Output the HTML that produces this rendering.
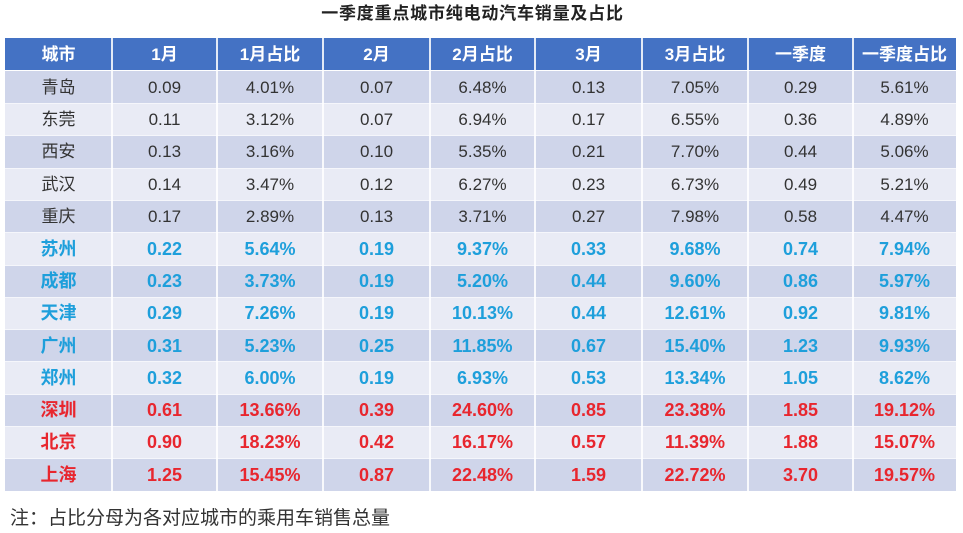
<!DOCTYPE html>
<html>
<head>
<meta charset="utf-8">
<style>
  html,body{margin:0;padding:0;background:#fff;}
  body{width:963px;height:533px;position:relative;overflow:hidden;
       font-family:"Liberation Sans","Noto Sans CJK SC",sans-serif;}
  .title{position:absolute;left:0;width:945px;top:3px;text-align:center;line-height:22px;
         font-size:17px;font-weight:bold;color:#222;letter-spacing:0.8px;}
  .row{position:absolute;left:5px;width:951px;}
  .c{position:absolute;top:0;height:100%;display:flex;align-items:center;justify-content:center;
     line-height:1;font-size:17px;color:#333;white-space:nowrap;}
  .hd{background:#4472C4;top:38px;height:32px;}
  .hd .c{color:#fff;font-weight:bold;font-size:17px;}
  .o{background:#CFD5EA;}
  .e{background:#E9EBF5;}
  .cy .c{color:#1E9FDB;font-weight:bold;font-size:18px;}
  .rd .c{color:#E8262E;font-weight:bold;font-size:18px;}
  .vl{position:absolute;top:38px;height:453px;width:2px;background:#fff;opacity:0.85;}
  .hl{position:absolute;left:5px;width:951px;height:1px;background:#f5f6fb;}
  .note{position:absolute;left:10px;top:508px;font-size:19px;line-height:22px;color:#333;}
</style>
</head>
<body>
<div class="title">一季度重点城市纯电动汽车销量及占比</div>

<div id="t"></div>

<div class="row hd">
  <div class="c" style="left:0;width:107px">城市</div>
  <div class="c" style="left:107px;width:105px">1月</div>
  <div class="c" style="left:212px;width:106px">1月占比</div>
  <div class="c" style="left:318px;width:107px">2月</div>
  <div class="c" style="left:425px;width:105px">2月占比</div>
  <div class="c" style="left:530px;width:107px">3月</div>
  <div class="c" style="left:637px;width:106px">3月占比</div>
  <div class="c" style="left:743px;width:105px">一季度</div>
  <div class="c" style="left:848px;width:103px">一季度占比</div>
</div>

<div class="row o" style="top:71px;height:32.3px">
  <div class="c" style="left:0;width:107px">青岛</div><div class="c" style="left:107px;width:105px">0.09</div><div class="c" style="left:212px;width:106px">4.01%</div><div class="c" style="left:318px;width:107px">0.07</div><div class="c" style="left:425px;width:105px">6.48%</div><div class="c" style="left:530px;width:107px">0.13</div><div class="c" style="left:637px;width:106px">7.05%</div><div class="c" style="left:743px;width:105px">0.29</div><div class="c" style="left:848px;width:103px">5.61%</div>
</div>
<div class="row e" style="top:103.3px;height:32.3px">
  <div class="c" style="left:0;width:107px">东莞</div><div class="c" style="left:107px;width:105px">0.11</div><div class="c" style="left:212px;width:106px">3.12%</div><div class="c" style="left:318px;width:107px">0.07</div><div class="c" style="left:425px;width:105px">6.94%</div><div class="c" style="left:530px;width:107px">0.17</div><div class="c" style="left:637px;width:106px">6.55%</div><div class="c" style="left:743px;width:105px">0.36</div><div class="c" style="left:848px;width:103px">4.89%</div>
</div>
<div class="row o" style="top:135.6px;height:32.3px">
  <div class="c" style="left:0;width:107px">西安</div><div class="c" style="left:107px;width:105px">0.13</div><div class="c" style="left:212px;width:106px">3.16%</div><div class="c" style="left:318px;width:107px">0.10</div><div class="c" style="left:425px;width:105px">5.35%</div><div class="c" style="left:530px;width:107px">0.21</div><div class="c" style="left:637px;width:106px">7.70%</div><div class="c" style="left:743px;width:105px">0.44</div><div class="c" style="left:848px;width:103px">5.06%</div>
</div>
<div class="row e" style="top:167.9px;height:32.3px">
  <div class="c" style="left:0;width:107px">武汉</div><div class="c" style="left:107px;width:105px">0.14</div><div class="c" style="left:212px;width:106px">3.47%</div><div class="c" style="left:318px;width:107px">0.12</div><div class="c" style="left:425px;width:105px">6.27%</div><div class="c" style="left:530px;width:107px">0.23</div><div class="c" style="left:637px;width:106px">6.73%</div><div class="c" style="left:743px;width:105px">0.49</div><div class="c" style="left:848px;width:103px">5.21%</div>
</div>
<div class="row o" style="top:200.2px;height:32.3px">
  <div class="c" style="left:0;width:107px">重庆</div><div class="c" style="left:107px;width:105px">0.17</div><div class="c" style="left:212px;width:106px">2.89%</div><div class="c" style="left:318px;width:107px">0.13</div><div class="c" style="left:425px;width:105px">3.71%</div><div class="c" style="left:530px;width:107px">0.27</div><div class="c" style="left:637px;width:106px">7.98%</div><div class="c" style="left:743px;width:105px">0.58</div><div class="c" style="left:848px;width:103px">4.47%</div>
</div>
<div class="row e cy" style="top:232.5px;height:32.3px">
  <div class="c" style="left:0;width:107px">苏州</div><div class="c" style="left:107px;width:105px">0.22</div><div class="c" style="left:212px;width:106px">5.64%</div><div class="c" style="left:318px;width:107px">0.19</div><div class="c" style="left:425px;width:105px">9.37%</div><div class="c" style="left:530px;width:107px">0.33</div><div class="c" style="left:637px;width:106px">9.68%</div><div class="c" style="left:743px;width:105px">0.74</div><div class="c" style="left:848px;width:103px">7.94%</div>
</div>
<div class="row o cy" style="top:264.8px;height:32.3px">
  <div class="c" style="left:0;width:107px">成都</div><div class="c" style="left:107px;width:105px">0.23</div><div class="c" style="left:212px;width:106px">3.73%</div><div class="c" style="left:318px;width:107px">0.19</div><div class="c" style="left:425px;width:105px">5.20%</div><div class="c" style="left:530px;width:107px">0.44</div><div class="c" style="left:637px;width:106px">9.60%</div><div class="c" style="left:743px;width:105px">0.86</div><div class="c" style="left:848px;width:103px">5.97%</div>
</div>
<div class="row e cy" style="top:297.1px;height:32.3px">
  <div class="c" style="left:0;width:107px">天津</div><div class="c" style="left:107px;width:105px">0.29</div><div class="c" style="left:212px;width:106px">7.26%</div><div class="c" style="left:318px;width:107px">0.19</div><div class="c" style="left:425px;width:105px">10.13%</div><div class="c" style="left:530px;width:107px">0.44</div><div class="c" style="left:637px;width:106px">12.61%</div><div class="c" style="left:743px;width:105px">0.92</div><div class="c" style="left:848px;width:103px">9.81%</div>
</div>
<div class="row o cy" style="top:329.4px;height:32.3px">
  <div class="c" style="left:0;width:107px">广州</div><div class="c" style="left:107px;width:105px">0.31</div><div class="c" style="left:212px;width:106px">5.23%</div><div class="c" style="left:318px;width:107px">0.25</div><div class="c" style="left:425px;width:105px">11.85%</div><div class="c" style="left:530px;width:107px">0.67</div><div class="c" style="left:637px;width:106px">15.40%</div><div class="c" style="left:743px;width:105px">1.23</div><div class="c" style="left:848px;width:103px">9.93%</div>
</div>
<div class="row e cy" style="top:361.7px;height:32.3px">
  <div class="c" style="left:0;width:107px">郑州</div><div class="c" style="left:107px;width:105px">0.32</div><div class="c" style="left:212px;width:106px">6.00%</div><div class="c" style="left:318px;width:107px">0.19</div><div class="c" style="left:425px;width:105px">6.93%</div><div class="c" style="left:530px;width:107px">0.53</div><div class="c" style="left:637px;width:106px">13.34%</div><div class="c" style="left:743px;width:105px">1.05</div><div class="c" style="left:848px;width:103px">8.62%</div>
</div>
<div class="row o rd" style="top:394px;height:32.3px">
  <div class="c" style="left:0;width:107px">深圳</div><div class="c" style="left:107px;width:105px">0.61</div><div class="c" style="left:212px;width:106px">13.66%</div><div class="c" style="left:318px;width:107px">0.39</div><div class="c" style="left:425px;width:105px">24.60%</div><div class="c" style="left:530px;width:107px">0.85</div><div class="c" style="left:637px;width:106px">23.38%</div><div class="c" style="left:743px;width:105px">1.85</div><div class="c" style="left:848px;width:103px">19.12%</div>
</div>
<div class="row e rd" style="top:426.3px;height:32.3px">
  <div class="c" style="left:0;width:107px">北京</div><div class="c" style="left:107px;width:105px">0.90</div><div class="c" style="left:212px;width:106px">18.23%</div><div class="c" style="left:318px;width:107px">0.42</div><div class="c" style="left:425px;width:105px">16.17%</div><div class="c" style="left:530px;width:107px">0.57</div><div class="c" style="left:637px;width:106px">11.39%</div><div class="c" style="left:743px;width:105px">1.88</div><div class="c" style="left:848px;width:103px">15.07%</div>
</div>
<div class="row o rd" style="top:458.6px;height:32.3px">
  <div class="c" style="left:0;width:107px">上海</div><div class="c" style="left:107px;width:105px">1.25</div><div class="c" style="left:212px;width:106px">15.45%</div><div class="c" style="left:318px;width:107px">0.87</div><div class="c" style="left:425px;width:105px">22.48%</div><div class="c" style="left:530px;width:107px">1.59</div><div class="c" style="left:637px;width:106px">22.72%</div><div class="c" style="left:743px;width:105px">3.70</div><div class="c" style="left:848px;width:103px">19.57%</div>
</div>

<div class="hl" style="top:103px"></div>
<div class="hl" style="top:135.3px"></div>
<div class="hl" style="top:167.6px"></div>
<div class="hl" style="top:199.9px"></div>
<div class="hl" style="top:232.2px"></div>
<div class="hl" style="top:264.5px"></div>
<div class="hl" style="top:296.8px"></div>
<div class="hl" style="top:329.1px"></div>
<div class="hl" style="top:361.4px"></div>
<div class="hl" style="top:393.7px"></div>
<div class="hl" style="top:426px"></div>
<div class="hl" style="top:458.3px"></div>

<div class="vl" style="left:111px"></div>
<div class="vl" style="left:216px"></div>
<div class="vl" style="left:322px"></div>
<div class="vl" style="left:429px"></div>
<div class="vl" style="left:534px"></div>
<div class="vl" style="left:641px"></div>
<div class="vl" style="left:747px"></div>
<div class="vl" style="left:852px"></div>

<div class="note">注：占比分母为各对应城市的乘用车销售总量</div>
</body>
</html>
